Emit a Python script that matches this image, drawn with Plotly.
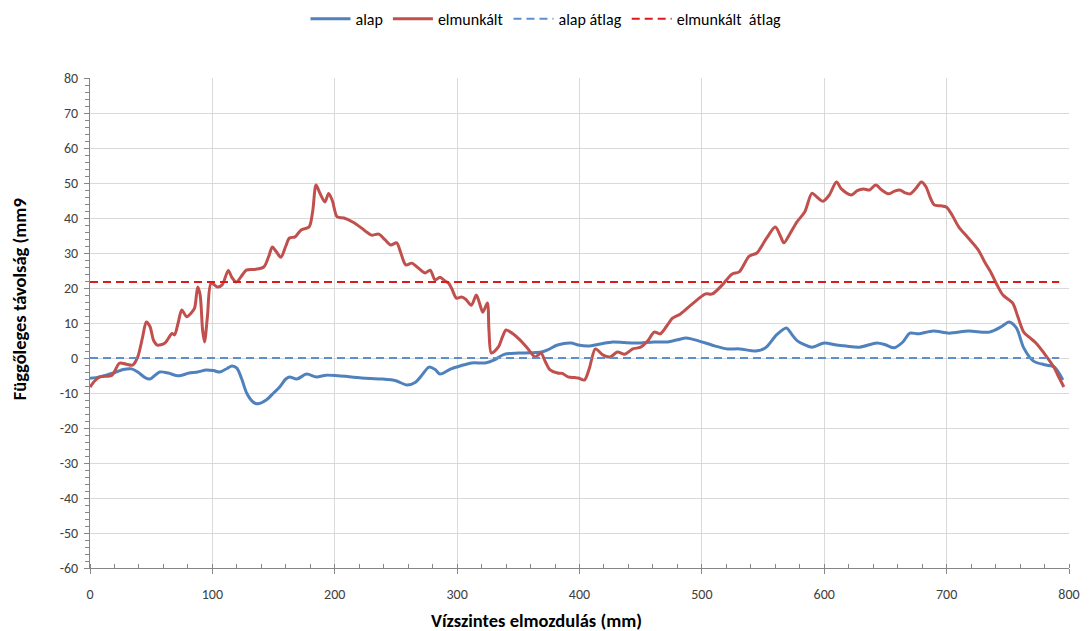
import plotly.graph_objects as go

# ---- data ----
alap_x = [0, 8, 19, 27, 34, 39, 45, 49, 57, 64, 72, 81, 88, 95, 101, 106, 112, 116, 120, 124,
          128, 133, 137, 144, 150, 155, 160, 163, 169, 177, 185, 193, 203, 222, 238, 250, 259,
          266, 271, 277, 282, 286, 295, 303, 312, 323, 330, 339, 350, 360, 369, 374, 382, 393,
          399, 407, 417, 427, 437, 447, 461, 472, 480, 487, 492, 503, 511, 521, 531, 544, 552,
          561, 569, 574, 578, 590, 600, 610, 618, 629, 643, 650, 657, 664, 670, 677, 689, 702,
          718, 735, 745, 751, 757, 763, 771, 781, 788, 795]
alap_y = [-5.8, -5.4, -4.3, -3.3, -3.1, -4.0, -5.6, -6.0, -4.0, -4.3, -5.1, -4.3, -4.0, -3.4,
          -3.6, -4.0, -3.0, -2.3, -2.9, -6.0, -10.0, -12.5, -13.1, -12.0, -10.0, -8.3, -6.0,
          -5.4, -6.0, -4.6, -5.4, -4.9, -5.1, -5.7, -6.0, -6.5, -7.7, -6.9, -5.0, -2.6, -3.3,
          -4.6, -3.1, -2.2, -1.4, -1.4, -0.6, 1.1, 1.4, 1.5, 1.7, 2.3, 3.7, 4.3, 3.7, 3.4, 4.0,
          4.6, 4.4, 4.3, 4.6, 4.6, 5.2, 5.7, 5.4, 4.3, 3.4, 2.6, 2.6, 2.0, 2.9, 6.6, 8.6, 6.5,
          4.9, 3.1, 4.3, 3.7, 3.4, 3.1, 4.3, 3.8, 2.9, 4.5, 7.1, 6.9, 7.7, 7.1, 7.7, 7.4, 9.0,
          10.3, 8.6, 2.9, -0.9, -2.0, -2.6, -6.3]

elm_x = [0, 4, 8, 18, 24, 30, 35, 39, 43, 46, 49, 52, 55, 61, 67, 69, 72, 75, 79, 83, 85.5,
         88, 90, 92, 93.6, 96, 99, 104, 108, 113, 116, 119.6, 124, 127.7, 134, 142, 146, 149,
         152, 156, 160, 163, 167.6, 172.5, 179, 182, 184.7, 188, 192, 195, 198, 202, 207.5,
         215, 222, 226, 230, 236, 241, 245.7, 250.6, 254, 258, 263, 268, 274, 278, 282, 286,
         290, 293, 296, 299.4, 303.5, 307, 311.6, 315.7, 318, 321, 324.7, 326, 328, 333.6,
         337, 340, 345.6, 351.5, 357, 363.7, 368.6, 372, 376, 382, 386, 390.6, 396, 399, 404,
         408, 413, 419, 425, 431, 437, 443.5, 450, 456, 461, 466, 471, 476, 482.5, 492, 503,
         508.5, 516.7, 524.8, 530.5, 538.7, 545, 553, 560, 564, 567, 572, 577.7, 584, 590,
         594, 599, 604, 610, 614, 622, 627, 632, 637, 642, 647, 652.6, 657, 661.6, 666, 670,
         675, 679.4, 683, 687, 690, 695, 700, 705, 710, 717.7, 725.8, 731, 736.4, 741, 746,
         754, 758, 763, 768, 773, 780, 787.6, 791, 795.8]
elm_y = [-8.3, -6.5, -5.4, -4.9, -1.5, -1.8, -2.0, 0.3, 6.0, 10.3, 9.0, 5.0, 3.7, 4.2, 7.0,
         6.6, 10.0, 13.7, 11.8, 13.0, 14.3, 20.3, 18.0, 8.0, 4.6, 12.0, 21.4, 20.3, 20.9, 25.0,
         23.0, 21.7, 23.5, 25.1, 25.3, 26.0, 29.0, 31.7, 30.5, 28.8, 32.0, 34.3, 34.6, 36.6,
         37.4, 42.0, 49.4, 47.0, 44.6, 47.0, 45.0, 40.3, 40.0, 38.8, 37.1, 36.0, 35.1, 35.4,
         33.8, 32.3, 32.9, 30.0, 26.6, 27.1, 25.8, 24.3, 25.1, 22.3, 23.1, 22.0, 21.4, 19.5,
         17.1, 17.4, 16.8, 15.1, 18.0, 16.0, 13.1, 15.7, 8.0, 1.4, 3.1, 6.0, 8.0, 6.9, 5.1,
         3.0, 0.3, 1.4, -1.0, -3.4, -4.3, -4.4, -5.4, -5.6, -5.7, -6.3, -3.0, 2.6, 0.9, 0.3,
         1.7, 1.1, 2.6, 3.1, 5.0, 7.4, 6.9, 9.0, 11.4, 12.6, 15.4, 18.3, 18.3, 20.9, 24.0,
         24.6, 29.1, 30.0, 34.3, 37.4, 35.0, 32.9, 35.5, 38.9, 41.7, 47.1, 46.0, 44.8, 46.5,
         50.3, 48.3, 46.6, 47.8, 48.3, 48.0, 49.4, 48.0, 46.9, 47.6, 48.0, 47.2, 46.9, 48.5,
         50.3, 49.0, 45.5, 43.7, 43.5, 43.1, 40.5, 37.4, 34.3, 30.9, 27.5, 24.3, 21.0, 18.0,
         15.7, 12.0, 7.4, 5.8, 4.3, 1.2, -2.6, -5.0, -8.3]

avg_x = [0, 792]
alap_avg = [0.0, 0.0]
elm_avg = [21.7, 21.7]

x_ticks = [0, 100, 200, 300, 400, 500, 600, 700, 800]
y_ticks = [-60, -50, -40, -30, -20, -10, 0, 10, 20, 30, 40, 50, 60, 70, 80]
y_labels = [str(v) for v in y_ticks]   # plain hyphen-minus as in the original

FONT = "Carlito, Calibri, Lato, Liberation Sans, Arial, sans-serif"

fig = go.Figure()
fig.add_trace(go.Scatter(x=alap_x, y=alap_y, name="alap", mode="lines",
                         line=dict(color="#4F81BD", width=3, shape="spline", smoothing=0.8)))
fig.add_trace(go.Scatter(x=elm_x, y=elm_y, name="elmunkált", mode="lines",
                         line=dict(color="#C0504D", width=3, shape="spline", smoothing=0.8)))
fig.add_trace(go.Scatter(x=avg_x, y=alap_avg, name="alap átlag", mode="lines",
                         line=dict(color="#5B8FD0", width=2, dash="8px,5px")))
fig.add_trace(go.Scatter(x=avg_x, y=elm_avg, name="elmunkált\u00a0 átlag", mode="lines",
                         line=dict(color="#DD1A1A", width=2, dash="8px,5px")))

fig.update_layout(
    width=1092, height=631,
    margin=dict(l=90, r=18, t=78, b=63),
    paper_bgcolor="white", plot_bgcolor="white",
    font=dict(family=FONT, size=14, color="#000000"),
    showlegend=True,
    legend=dict(orientation="h", xref="container", yref="container",
                x=0.5, xanchor="center", y=0.997, yanchor="top",
                font=dict(size=16, family=FONT), itemwidth=40, tracegroupgap=0),
    xaxis=dict(range=[0, 800], tickmode="array", tickvals=x_ticks,
               ticktext=[str(v) for v in x_ticks],
               showgrid=True, gridcolor="#D9D9D9",
               gridwidth=1, zeroline=False, showline=True, linecolor="#868686", linewidth=1,
               ticks="outside", ticklen=5, tickcolor="#868686", ticklabelstandoff=8,
               tickfont=dict(size=14, color="#404040"),
               minor=dict(dtick=20, tick0=0, ticks="inside", ticklen=4, tickcolor="#868686",
                          showgrid=False)),
    yaxis=dict(range=[-60, 80], tickmode="array", tickvals=y_ticks, ticktext=y_labels,
               showgrid=True, gridcolor="#D9D9D9",
               gridwidth=1, zeroline=False, showline=True, linecolor="#868686", linewidth=1,
               ticks="outside", ticklen=5, tickcolor="#868686", ticklabelstandoff=3,
               tickfont=dict(size=14, color="#404040"),
               minor=dict(dtick=2, tick0=0, ticks="outside", ticklen=4, tickcolor="#868686",
                          showgrid=False)),
    annotations=[
        dict(text="<b>Vízszintes elmozdulás (mm)</b>", xref="paper", yref="paper",
             x=0.456, y=-0.108, xanchor="center", yanchor="middle", showarrow=False,
             font=dict(size=18.5, family=FONT, color="#000000")),
        dict(text="<b>Függőleges távolság (mm9</b>", xref="paper", yref="paper",
             x=-0.0712, y=0.549, xanchor="center", yanchor="middle", textangle=-90,
             showarrow=False, font=dict(size=18.5, family=FONT, color="#000000")),
    ],
)

fig.write_html("out.html")
